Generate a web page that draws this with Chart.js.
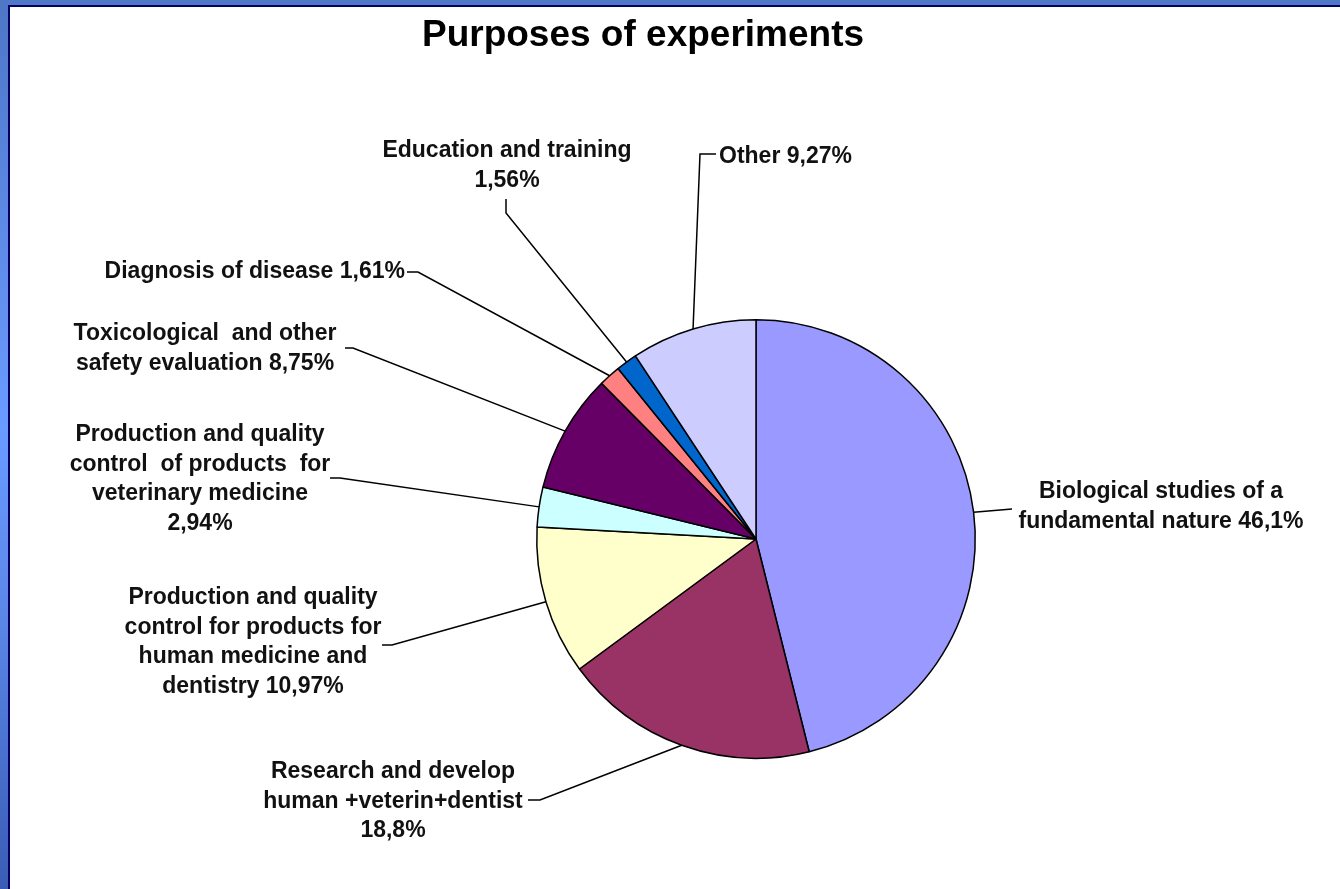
<!DOCTYPE html>
<html>
<head>
<meta charset="utf-8">
<script src="https://cdn.jsdelivr.net/npm/chart.js@4.4.0/dist/chart.umd.min.js"></script>
<style>
  html, body { margin: 0; padding: 0; background: #fff; overflow: hidden; }
  #topband { position: absolute; left: 0; top: 0; width: 1340px; height: 5px; background: #5078c8; }
  #topline { position: absolute; left: 8px; top: 5px; width: 1332px; height: 2px; background: #000066; }
  #leftband { position: absolute; left: 0; top: 0; width: 8px; height: 889px;
    background: linear-gradient(to bottom, #4e76c6 0%, #6a9bff 48%, #5a86e6 70%, #3a5cb4 100%); }
  #leftline { position: absolute; left: 8px; top: 5px; width: 2px; height: 884px; background: #000066; }
  #panel { position: absolute; left: 10px; top: 7px; width: 1330px; height: 882px; background: #fff; }
</style>
</head>
<body>
<div id="topband"></div>
<div id="leftband"></div>
<div id="topline"></div>
<div id="leftline"></div>
<div id="panel"><canvas id="chart"></canvas></div>
<script>
// slices, clockwise from 12 o'clock
const categories = [
  'Biological studies of a\nfundamental nature',
  'Research and develop\nhuman +veterin+dentist',
  'Production and quality\ncontrol for products for\nhuman medicine and\ndentistry',
  'Production and quality\ncontrol  of products  for\nveterinary medicine',
  'Toxicological  and other\nsafety evaluation',
  'Diagnosis of disease',
  'Education and training',
  'Other'
];
const values = [46.1, 18.8, 10.97, 2.94, 8.75, 1.61, 1.56, 9.27];
// how the percentage joins the name: same line or a new one
const valueJoin = [' ', '\n', ' ', '\n', ' ', ' ', '\n', ' '];
const colors = ['#9999ff', '#993366', '#ffffcc', '#ccffff', '#660066', '#ff8080', '#0066cc', '#ccccff'];

// label placement, offsets from the pie centre (px)
const labelPos = [
  { align: 'center', x: 405, y: -47, end: [256, -30], elbow: null },
  { align: 'center', x: -363, y: 233, end: [-228, 261], elbow: [-216, 261] },
  { align: 'center', x: -503, y: 59, end: [-374, 106], elbow: [-364, 106] },
  { align: 'center', x: -556, y: -104, end: [-426, -61], elbow: [-416, -61] },
  { align: 'center', x: -551, y: -205, end: [-411, -191], elbow: [-403, -191] },
  { align: 'right', x: -351, y: -267, end: [-349, -267], elbow: [-338, -267] },
  { align: 'center', x: -249, y: -388, end: [-250, -340], elbow: [-250, -326] },
  { align: 'left', x: -37, y: -382, end: [-40, -385], elbow: [-56, -385] }
];
const LINE_H = 29.5;
const FONT = 'bold 23px "Liberation Sans", Arial, sans-serif';

const fmt = v => String(v).replace('.', ',') + '%';

const leaderLabels = {
  id: 'leaderLabels',
  afterDatasetsDraw(chart) {
    const ctx = chart.ctx;
    const meta = chart.getDatasetMeta(0);
    ctx.save();
    ctx.strokeStyle = '#000';
    ctx.lineWidth = 1.5;
    ctx.fillStyle = '#111';
    ctx.font = FONT;
    ctx.textBaseline = 'middle';
    meta.data.forEach((arc, i) => {
      const p = arc.getProps(['x', 'y', 'startAngle', 'endAngle', 'outerRadius'], true);
      const mid = (p.startAngle + p.endAngle) / 2;
      const L = labelPos[i];
      ctx.beginPath();
      ctx.moveTo(p.x + Math.cos(mid) * p.outerRadius, p.y + Math.sin(mid) * p.outerRadius);
      if (L.elbow) ctx.lineTo(p.x + L.elbow[0], p.y + L.elbow[1]);
      ctx.lineTo(p.x + L.end[0], p.y + L.end[1]);
      ctx.stroke();
      const lines = (categories[i] + valueJoin[i] + fmt(values[i])).split('\n');
      ctx.textAlign = L.align;
      lines.forEach((t, k) => ctx.fillText(t, p.x + L.x, p.y + L.y + k * LINE_H));
    });
    ctx.restore();
  }
};

const titlePlugin = {
  id: 'titleText',
  afterDraw(chart) {
    const ctx = chart.ctx;
    ctx.save();
    ctx.font = 'bold 37px "Liberation Sans", Arial, sans-serif';
    ctx.fillStyle = '#000';
    ctx.textAlign = 'center';
    ctx.textBaseline = 'alphabetic';
    ctx.fillText('Purposes of experiments', 633, 39);
    ctx.restore();
  }
};

new Chart(document.getElementById('chart'), {
  type: 'pie',
  data: {
    labels: categories,
    datasets: [{
      data: values,
      backgroundColor: colors,
      borderColor: '#000',
      borderWidth: 1.5
    }]
  },
  options: {
    responsive: true,
    maintainAspectRatio: false,
    animation: false,
    rotation: 0,
    layout: { padding: { left: 526, right: 364, top: 312, bottom: 130 } },
    plugins: {
      legend: { display: false },
      tooltip: { enabled: false },
      title: { display: false }
    }
  },
  plugins: [leaderLabels, titlePlugin]
});
</script>
</body>
</html>
